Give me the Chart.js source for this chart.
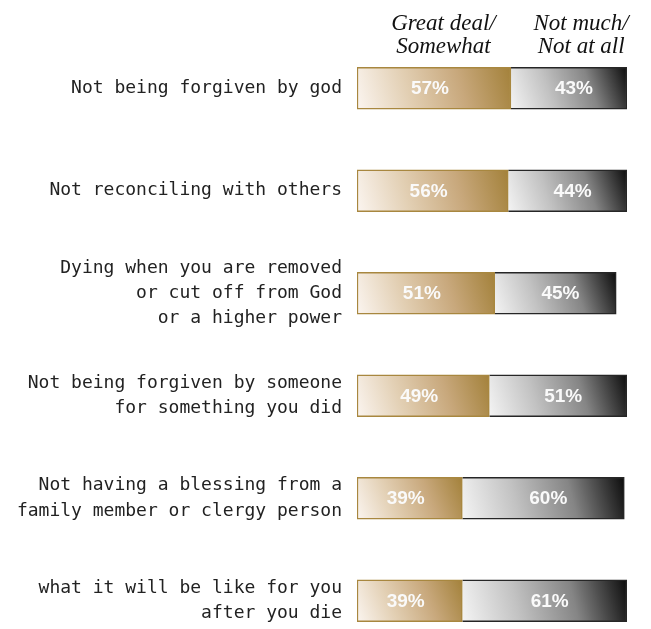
<!DOCTYPE html>
<html>
<head>
<meta charset="utf-8">
<script src="https://cdn.jsdelivr.net/npm/chart.js@4"></script>
<style>
 html, body { margin:0; padding:0; overflow:hidden; background:#fff; }
 canvas { display:block; }
</style>
</head>
<body>
<canvas id="fearChart" width="651" height="655"></canvas>
<script>
// categories (multi-line labels as arrays)
const categories = [
 "Not being forgiven by god",
 "Not reconciling with others",
 ["Dying when you are removed", "or cut off from God", "or a higher power"],
 ["Not being forgiven by someone", "for something you did"],
 ["Not having a blessing from a", "family member or clergy person"],
 ["what it will be like for you", "after you die"]
];
const greatDeal = [57, 56, 51, 49, 39, 39];
const notMuch = [43, 44, 45, 51, 60, 61];
const headerGreat = ["Great deal/", "Somewhat"];
const headerNot = ["Not much/", "Not at all"];

// gradient across one bar segment
function segGradient(context, stops, startVal, endVal){
 const chart = context.chart;
 if(!chart.chartArea) return stops[stops.length - 1];
 const xs = chart.scales.x, ys = chart.scales.y;
 const x0 = xs.getPixelForValue(startVal);
 const x1 = xs.getPixelForValue(endVal);
 const yc = ys.getPixelForValue(context.dataIndex);
 const g = chart.ctx.createLinearGradient(x0, yc + 21, x1, yc - 21);
 stops.forEach((c, i) => g.addColorStop(i / (stops.length - 1), c));
 return g;
}

const tanStops = ['#fbf5f0', '#e2cfb3', '#c8a87c', '#a3813a'];
const greyStops = ['#f4f4f4', '#c2c2c2', '#858585', '#0c0c0c'];

// header text above the two columns
const headerPlugin = {
 id: 'headers',
 afterDraw(chart){
  const ctx = chart.ctx;
  const xs = chart.scales.x;
  ctx.save();
  ctx.font = 'italic 23px "Liberation Serif"';
  ctx.fillStyle = '#111';
  ctx.textAlign = 'center';
  ctx.textBaseline = 'alphabetic';
  const gx = xs.getPixelForValue(32);
  const nx = xs.getPixelForValue(83);
  ctx.fillText(headerGreat[0], gx, 30);
  ctx.fillText(headerGreat[1], gx, 53);
  ctx.fillText(headerNot[0], nx, 30);
  ctx.fillText(headerNot[1], nx, 53);
  ctx.restore();
 }
};

// percent labels inside segments
const valuePlugin = {
 id: 'values',
 afterDatasetsDraw(chart){
  const ctx = chart.ctx;
  ctx.save();
  ctx.font = 'bold 19px "Liberation Sans"';
  ctx.fillStyle = '#fafafa';
  ctx.textAlign = 'center';
  ctx.textBaseline = 'middle';
  chart.data.datasets.forEach((ds, di) => {
   chart.getDatasetMeta(di).data.forEach((bar, i) => {
    const cx = (bar.x + bar.base) / 2 + (di === 0 ? -4 : 5);
    ctx.fillText(ds.data[i] + '%', cx, bar.y + 1);
   });
  });
  ctx.restore();
 }
};

const ctx = document.getElementById('fearChart').getContext('2d');
new Chart(ctx, {
 type: 'bar',
 data: {
  labels: categories,
  datasets: [
   {
    label: 'Great deal/Somewhat',
    data: greatDeal,
    backgroundColor: c => segGradient(c, tanStops, 0, greatDeal[c.dataIndex]),
    borderColor: '#a8873f',
    borderWidth: 1.5,
    borderSkipped: false,
    barThickness: 42
   },
   {
    label: 'Not much/Not at all',
    data: notMuch,
    backgroundColor: c => segGradient(c, greyStops, greatDeal[c.dataIndex], greatDeal[c.dataIndex] + notMuch[c.dataIndex]),
    borderColor: '#262626',
    borderWidth: 1.5,
    barThickness: 42
   }
  ]
 },
 options: {
  indexAxis: 'y',
  responsive: false,
  animation: false,
  layout: { padding: { top: 37, right: 24, bottom: 3, left: 0 } },
  plugins: {
   legend: { display: false },
   tooltip: { enabled: false }
  },
  scales: {
   x: {
    stacked: true,
    min: 0,
    max: 100,
    display: false
   },
   y: {
    stacked: true,
    grid: { display: false, drawTicks: false },
    border: { display: false },
    afterFit(scale){
     scale.width = 357;
     scale.paddingTop = 0;
     scale.paddingBottom = 0;
    },
    ticks: {
     padding: 15,
     color: '#222',
     font: { family: '"DejaVu Sans Mono"', size: 18, lineHeight: 1.4 }
    }
   }
  }
 },
 plugins: [headerPlugin, valuePlugin]
});
</script>
</body>
</html>
